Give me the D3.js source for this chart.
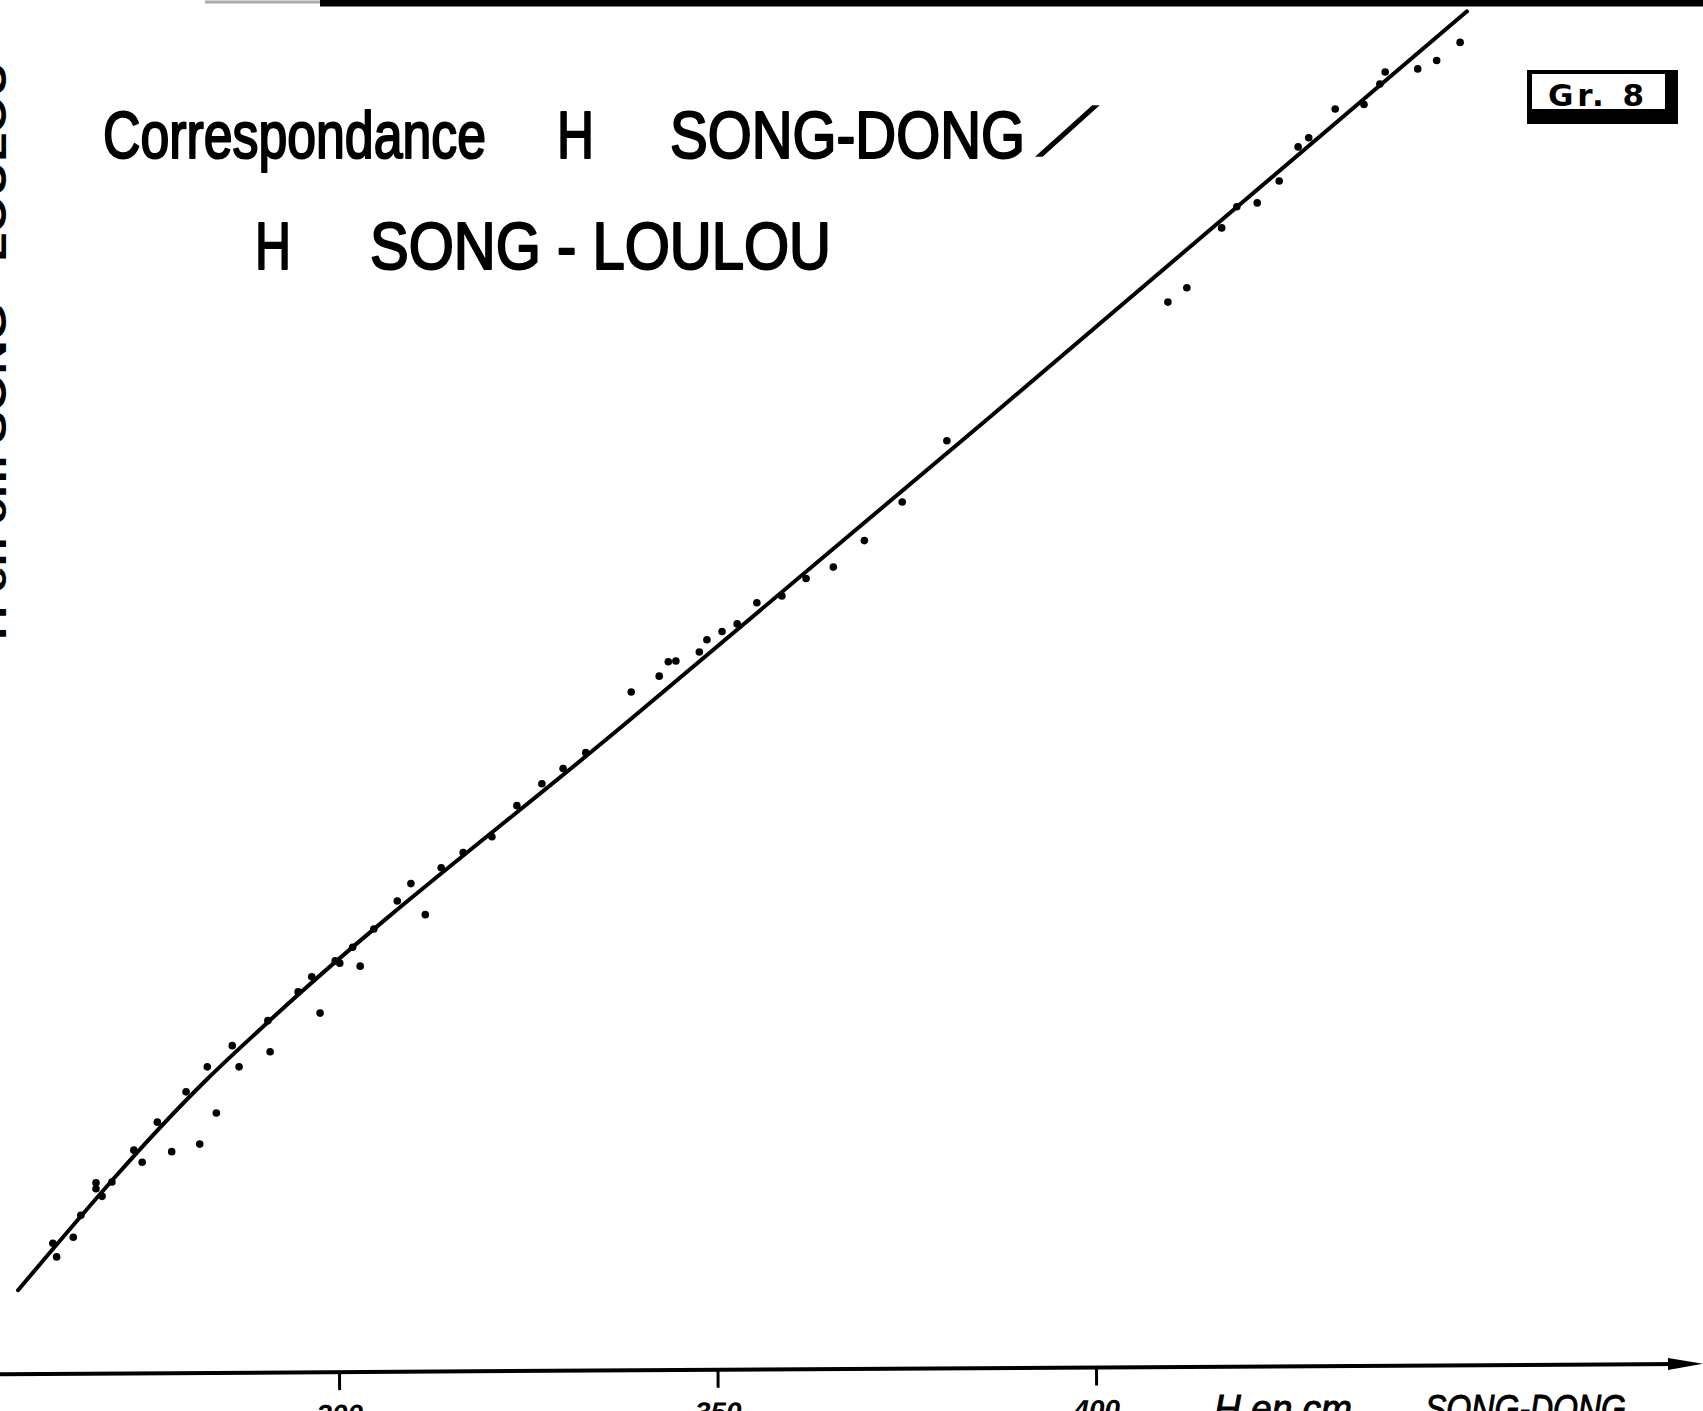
<!DOCTYPE html>
<html>
<head>
<meta charset="utf-8">
<script src="https://cdn.jsdelivr.net/npm/d3@7"></script>
<style>
  html, body { margin: 0; padding: 0; background: #fff; overflow: hidden; }
  svg { display: block; }
</style>
</head>
<body>
<div id="chart"></div>
<script>
// H Song-Dong (cm) -> H Song-Loulou (cm), readings off Gr. 8
var songDong = [262.7, 262.2, 264.9, 265.9, 268.7, 267.9, 267.9, 270.0, 274.0, 272.9,
    277.9, 281.6, 276.0, 283.8, 279.8, 282.6, 286.8, 285.9, 290.9, 290.6,
    297.5, 294.6, 296.4, 299.5, 300.1, 302.8, 301.8, 304.6, 307.7, 311.4,
    309.5, 313.5, 316.4, 320.2, 323.5, 326.8, 329.6, 332.6, 338.6, 342.3,
    343.5, 344.5, 347.6, 348.6, 350.6, 352.6, 355.2, 358.5, 361.7, 365.3,
    369.4, 374.4, 380.3, 409.5, 412.0, 416.6, 418.6, 421.3, 424.2, 426.7,
    428.1, 431.6, 435.4, 437.5, 438.2, 442.5, 445.0, 448.1];
var songLoulou = [195.2, 197.0, 197.8, 200.7, 203.2, 204.2, 205.0, 205.1, 207.7, 209.3,
    209.1, 210.1, 213.0, 214.2, 217.0, 220.3, 220.3, 223.1, 222.3, 226.4,
    227.4, 230.2, 232.2, 234.3, 234.0, 233.6, 236.1, 238.5, 242.2, 240.4,
    244.5, 246.6, 248.6, 250.7, 254.8, 257.7, 259.7, 261.8, 269.8, 271.9,
    273.8, 273.9, 275.1, 276.7, 277.8, 278.8, 281.6, 282.5, 284.8, 286.3,
    289.8, 294.9, 303.0, 321.3, 323.2, 331.1, 333.9, 334.4, 337.3, 341.8,
    343.0, 346.8, 347.4, 350.1, 351.7, 352.1, 353.2, 355.6];

// hand drawn correspondence curve
var fitDong = [257.6, 282.6, 290.6, 338.4, 385.6, 449.0];
var fitLoulou = [190.8, 218.7, 226.2, 266.1, 305.8, 359.7];

var tickValues = [300, 350, 400];
var titleLine1 = ["Correspondance", "H", "SONG-DONG"];
var titleLine2 = ["H", "SONG - LOULOU"];
var xLabel = ["H en cm", "SONG-DONG"];
var yLabel = "H  en cm   SONG - LOULOU";
var plateLabel = "Gr. 8";

function correspondance(targetSelector, width, height) {
    var x = d3.scaleLinear().domain([300, 400]).range([339, 1096]),
        y = d3.scaleLinear().domain([180, 361.2]).range([1372, 0]),
        line = d3.line()
            .x(d => x(d[0]))
            .y(d => y(d[1]))
            .curve(d3.curveMonotoneX),
        titleFont = "'Liberation Sans Narrow', 'Liberation Sans', Arial, sans-serif",

        svg = d3.select(targetSelector)
            .append("svg")
            .attr("width", width)
            .attr("height", height);

    // top border of the plate
    svg.append("line")
        .attr("x1", 205).attr("x2", 330).attr("y1", 2).attr("y2", 2)
        .attr("stroke", "#aaa").attr("stroke-width", 3);
    svg.append("line")
        .attr("x1", 320).attr("x2", width).attr("y1", 3).attr("y2", 3)
        .attr("stroke", "#000").attr("stroke-width", 7);

    // y label, cut by the left edge of the scan
    svg.append("text")
        .attr("transform", "translate(6,640) rotate(-90)")
        .attr("font-family", titleFont)
        .attr("font-weight", "bold")
        .attr("font-size", 40)
        .attr("textLength", 578)
        .attr("lengthAdjust", "spacingAndGlyphs")
        .text(yLabel);

    // title
    var line1Pos = [[103, 383], [557, 37], [670, 355]],
        line2Pos = [[255, 36], [370, 461]];
    svg.append("g").selectAll("text")
        .data(titleLine1)
        .enter().append("text")
        .attr("x", (d, i) => line1Pos[i][0])
        .attr("y", 158)
        .attr("textLength", (d, i) => line1Pos[i][1])
        .attr("lengthAdjust", "spacingAndGlyphs")
        .attr("font-family", titleFont)
        .attr("font-size", 67)
        .attr("stroke", "#000").attr("stroke-width", 2.2)
        .attr("stroke-linejoin", "round")
        .text(d => d);
    svg.append("text")
        .attr("transform", "translate(1038,155) skewX(-40)")
        .attr("font-family", titleFont)
        .attr("font-size", 67)
        .attr("stroke", "#000").attr("stroke-width", 2.2)
        .text("/");
    svg.append("g").selectAll("text")
        .data(titleLine2)
        .enter().append("text")
        .attr("x", (d, i) => line2Pos[i][0])
        .attr("y", 269)
        .attr("textLength", (d, i) => line2Pos[i][1])
        .attr("lengthAdjust", "spacingAndGlyphs")
        .attr("font-family", titleFont)
        .attr("font-size", 67)
        .attr("stroke", "#000").attr("stroke-width", 2.2)
        .attr("stroke-linejoin", "round")
        .text(d => d);

    // plate number box
    var box = svg.append("g");
    box.append("rect").attr("x", 1527).attr("y", 70).attr("width", 151).attr("height", 54).attr("fill", "#000");
    box.append("rect").attr("x", 1532).attr("y", 74).attr("width", 133).attr("height", 35).attr("fill", "#fff");
    box.append("text")
        .attr("x", 1548).attr("y", 106)
        .attr("font-family", "'DejaVu Sans', sans-serif")
        .attr("font-weight", "bold")
        .attr("font-size", 31)
        .attr("textLength", 96)
        .attr("lengthAdjust", "spacing")
        .text(plateLabel);

    // x axis, slightly skewed on the scan
    var axis = svg.append("g")
        .attr("transform", "translate(0,1369) rotate(-0.35," + (width / 2) + ",0)");
    axis.call(d3.axisBottom(x).tickValues(tickValues).tickSize(18).tickPadding(14));
    axis.select(".domain").remove();
    axis.selectAll(".tick line").attr("stroke", "#000").attr("stroke-width", 3);
    axis.selectAll(".tick text")
        .attr("fill", "#000")
        .attr("font-family", titleFont)
        .attr("font-style", "italic")
        .attr("font-weight", "bold")
        .attr("font-size", 28);
    axis.append("line")
        .attr("x1", 0).attr("x2", 1680).attr("y1", 0).attr("y2", 0)
        .attr("stroke", "#000").attr("stroke-width", 4);
    axis.append("path")
        .attr("d", "M1668,-6L1703,0L1668,6Z")
        .attr("fill", "#000");

    var labelPos = [[1214, 138], [1425, 201]];
    svg.append("g").selectAll("text")
        .data(xLabel)
        .enter().append("text")
        .attr("x", (d, i) => labelPos[i][0])
        .attr("y", 1422)
        .attr("textLength", (d, i) => labelPos[i][1])
        .attr("lengthAdjust", "spacingAndGlyphs")
        .attr("font-family", titleFont)
        .attr("font-style", "italic")
        .attr("font-size", 38)
        .attr("stroke", "#000").attr("stroke-width", 1)
        .text(d => d);

    // fitted curve
    svg.append("path")
        .datum(d3.zip(fitDong, fitLoulou))
        .attr("d", line)
        .attr("fill", "none")
        .attr("stroke", "#000")
        .attr("stroke-width", 4)
        .attr("stroke-linecap", "round");

    // observations
    svg.append("g").selectAll("circle")
        .data(d3.zip(songDong, songLoulou))
        .enter().append("circle")
        .attr("cx", d => x(d[0]))
        .attr("cy", d => y(d[1]))
        .attr("r", 3.8)
        .attr("fill", "#000");
}

correspondance("#chart", 1703, 1411);
</script>
</body>
</html>
